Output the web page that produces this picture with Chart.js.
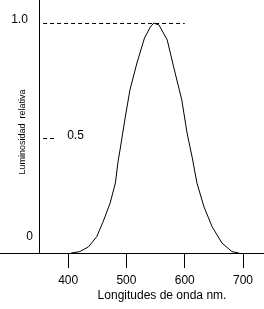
<!DOCTYPE html>
<html lang="es">
<head>
    <meta charset="UTF-8">
    <title>Luminosidad relativa</title>
    <script src="https://cdn.jsdelivr.net/npm/chart.js"></script>
    <style>
        body {margin: 0; background: #fff;}
        #wrap {width: 264px; height: 309px; position: relative;}
    </style>
</head>
<body>
    <div id="wrap"><canvas id="chart"></canvas></div>
    <script>
        // wavelength (nm) and relative luminosity
        let wavelengths = [405, 420, 435, 449, 460, 472, 481, 486, 489, 498, 506, 518, 531, 541, 547, 556, 570, 581, 595, 604, 613, 621, 633, 647, 664, 681, 693]
        let luminosity  = [0, 0.006, 0.027, 0.071, 0.136, 0.217, 0.304, 0.404, 0.448, 0.591, 0.709, 0.826, 0.935, 0.983, 1.0, 0.991, 0.926, 0.809, 0.665, 0.522, 0.413, 0.304, 0.201, 0.114, 0.043, 0.006, 0]
        let xTicks = [400, 500, 600, 700]
        let yTicks = [0, 0.5, 1.0]
        let yTickLabels = ['0', '0.5', '1.0']
        // dashed guide lines: [value, from nm, to nm]
        let guides = [[1.0, 357, 600], [0.5, 357, 376]]

        let font = '"Liberation Sans", Arial, sans-serif'

        // axes, guides and labels that chart.js can't lay out like the original
        let extras = {
            id: 'extras',
            afterDraw(chart) {
                let ctx = chart.ctx
                let x = chart.scales.x, y = chart.scales.y
                let area = chart.chartArea
                ctx.save()
                ctx.strokeStyle = '#000'
                ctx.lineWidth = 1
                // y axis line + x axis running out to the left edge
                let ax = Math.round(x.getPixelForValue(350)) + 0.5
                let by = Math.round(area.bottom) + 0.5
                ctx.beginPath()
                ctx.moveTo(ax, 0)
                ctx.lineTo(ax, by)
                ctx.moveTo(0, by)
                ctx.lineTo(area.left, by)
                ctx.stroke()
                // dashed guides
                ctx.setLineDash([4, 3])
                for (let g of guides) {
                    let gy = Math.round(y.getPixelForValue(g[0])) + 0.5
                    ctx.beginPath()
                    ctx.moveTo(x.getPixelForValue(g[1]), gy)
                    ctx.lineTo(x.getPixelForValue(g[2]), gy)
                    ctx.stroke()
                }
                ctx.setLineDash([])
                // y tick labels (0.5 sits right of the axis in the original)
                ctx.fillStyle = '#000'
                ctx.font = '12px ' + font
                ctx.textAlign = 'center'
                ctx.textBaseline = 'middle'
                let labelX = [29.5, 75.5, 19.5]
                let labelDy = [-16, -2, -3]
                yTicks.forEach((v, i) => {
                    ctx.fillText(yTickLabels[i], labelX[i], y.getPixelForValue(v) + labelDy[i])
                })
                // axis titles
                ctx.fillText('Longitudes de onda nm.', 162, 296)
                ctx.translate(22.5, 132)
                ctx.rotate(-Math.PI / 2)
                ctx.font = '9px ' + font
                ctx.fillText('Luminosidad  relativa', 0, 0)
                ctx.restore()
            }
        }

        let ctx = document.getElementById('chart').getContext('2d')
        let chart = new Chart(ctx, {
            type: 'line',
            data: {
                datasets: [{
                    data: wavelengths.map((w, i) => ({x: w, y: luminosity[i]})),
                    borderColor: '#000',
                    borderWidth: 1,
                    pointRadius: 0,
                    tension: 0,
                    fill: false
                }]
            },
            options: {
                responsive: true,
                maintainAspectRatio: false,
                animation: false,
                devicePixelRatio: 1,
                layout: {padding: {left: 39, top: 0, right: 0, bottom: 0}},
                plugins: {legend: {display: false}, tooltip: {enabled: false}},
                scales: {
                    x: {
                        type: 'linear',
                        min: 350,
                        max: 736,
                        afterBuildTicks: s => { s.ticks = xTicks.map(v => ({value: v})) },
                        afterFit: s => { s.height = 56 },
                        grid: {drawOnChartArea: false, drawTicks: true, tickLength: 15, color: '#000', lineWidth: 1},
                        border: {display: true, color: '#000', width: 1},
                        ticks: {color: '#000', font: {family: font, size: 12}, padding: 5, maxRotation: 0}
                    },
                    y: {
                        display: false,
                        min: 0,
                        max: 1.1
                    }
                }
            },
            plugins: [extras]
        })
    </script>
</body>
</html>
